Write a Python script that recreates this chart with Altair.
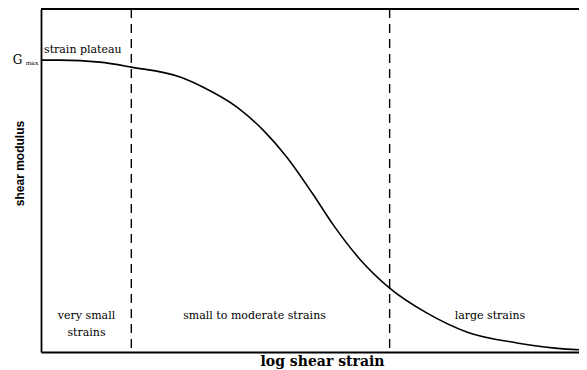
import altair as alt
import pandas as pd

# curve: log shear strain vs normalized shear modulus (G/Gmax)
log_strain = [-6.0, -5.79, -5.35, -5.0, -4.46, -4.21, -3.83, -3.54, -3.28, -2.99,
              -2.77, -2.47, -2.14, -1.73, -1.28, -0.73, -0.18, 0.0]
modulus = [1.0, 1.0, 0.993, 0.976, 0.942, 0.908, 0.839, 0.760, 0.668, 0.541,
           0.438, 0.318, 0.219, 0.134, 0.068, 0.031, 0.010, 0.007]

boundaries = [-5.0, -2.14]

region_labels = ["very small", "strains", "small to moderate strains", "large strains"]
region_x = [-5.496, -5.496, -3.636, -1.03]
region_y = [0.123, 0.065, 0.123, 0.123]

XDOM = [-6, -0.0434]
YTOP = 1.175
YDOM = [0, YTOP]
FONT = "DejaVu Serif"

curve_df = pd.DataFrame({"x": log_strain, "y": modulus})
bound_df = pd.DataFrame({"x": boundaries})
top_df = pd.DataFrame({"y": [YTOP]})
lab_df = pd.DataFrame({"x": region_x, "y": region_y, "t": region_labels})
plateau_df = pd.DataFrame({"x": [-5.967], "y": [1.034], "t": ["strain plateau"]})
g_df = pd.DataFrame({"x": [-6.26], "y": [1.0], "t": ["G"]})
gmax_df = pd.DataFrame({"x": [-6.10], "y": [0.99], "t": ["max"]})

xs = alt.Scale(domain=XDOM, nice=False, zero=False)
ys = alt.Scale(domain=YDOM, nice=False, zero=False)

xaxis = alt.Axis(title="log shear strain", domain=True, domainColor="black", domainWidth=1.8,
                 ticks=False, labels=False, grid=False,
                 titleFont=FONT, titleFontSize=14, titleFontWeight="bold", titleColor="black",
                 titleX=281, titleY=13, titleBaseline="alphabetic", titleAlign="center")
yaxis = alt.Axis(title="shear modulus", domain=True, domainColor="black", domainWidth=1.8,
                 ticks=False, labels=False, grid=False,
                 titleFont="Liberation Sans", titleFontSize=12, titleFontWeight="bold",
                 titleColor="black", titleX=-22, titleY=154, titleBaseline="middle",
                 titleAngle=-90, titleAlign="center")

curve = alt.Chart(curve_df).mark_line(color="black", strokeWidth=1.6, interpolate="monotone",
                                      clip=True).encode(
    x=alt.X("x:Q", scale=xs, axis=xaxis),
    y=alt.Y("y:Q", scale=ys, axis=yaxis),
)

rules = alt.Chart(bound_df).mark_rule(color="black", strokeWidth=1.4, strokeDash=[9, 6]).encode(
    x=alt.X("x:Q", scale=xs)
)

top_line = alt.Chart(top_df).mark_rule(color="black", strokeWidth=2).encode(
    y=alt.Y("y:Q", scale=ys)
)

labels = alt.Chart(lab_df).mark_text(font=FONT, fontSize=11, color="black").encode(
    x=alt.X("x:Q", scale=xs), y=alt.Y("y:Q", scale=ys), text="t:N"
)

plateau = alt.Chart(plateau_df).mark_text(font=FONT, fontSize=11, color="black", align="left").encode(
    x=alt.X("x:Q", scale=xs), y=alt.Y("y:Q", scale=ys), text="t:N"
)

g_text = alt.Chart(g_df).mark_text(font=FONT, fontSize=12, color="black").encode(
    x=alt.X("x:Q", scale=xs), y=alt.Y("y:Q", scale=ys), text="t:N"
)
gmax_text = alt.Chart(gmax_df).mark_text(font=FONT, fontSize=6, color="black").encode(
    x=alt.X("x:Q", scale=xs), y=alt.Y("y:Q", scale=ys), text="t:N"
)

chart = alt.layer(rules, top_line, curve, labels, plateau, g_text, gmax_text).properties(
    width=538, height=343,
    background="white",
    autosize=alt.AutoSizeParams(type="none"),
    padding={"left": 33, "top": 1, "right": 0, "bottom": 18},
).configure_view(stroke=None)

chart.save("out.html", embed_options={"renderer": "svg", "actions": False})
